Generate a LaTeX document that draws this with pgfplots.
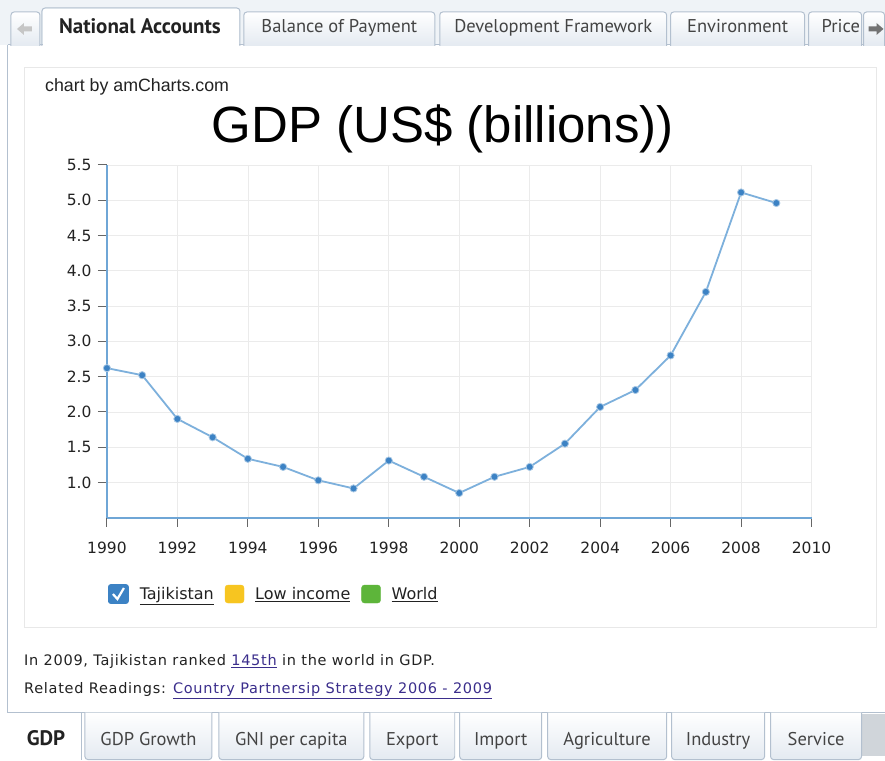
\documentclass[border=0pt]{standalone}
\usepackage{pgfplots}
\pgfplotsset{compat=1.18}
\usepackage{fontspec}
\setmainfont{DejaVu Sans}
\newfontfamily\arial{Liberation Sans}
\newfontfamily\tabfont{PT Sans}
\newfontfamily\bodyspaced[LetterSpace=5]{DejaVu Sans}
\definecolor{tabbg}{HTML}{E4EAF1}
\definecolor{tabborder}{HTML}{B3C0CF}
\definecolor{linkc}{HTML}{3B2E8C}
\definecolor{plotline}{HTML}{7DB0DC}
\definecolor{plotmark}{HTML}{3C82C4}
\definecolor{axisblue}{HTML}{6FA6D6}
\definecolor{txt}{HTML}{222222}
\definecolor{tabtxt}{HTML}{444444}
\definecolor{lowinc}{HTML}{F7C520}
\definecolor{world}{HTML}{5DB53A}
\begin{document}
\begin{tikzpicture}
\begin{scope}[x=1pt,y=-1pt]
\fill[white] (0,0) rectangle (885,756);
% ---------- top tab bar ----------
\fill[tabbg!60!white] (0,0) rectangle (885,45);
\draw[tabborder, line width=1pt] (8,45) -- (885,45);
\foreach \xa/\xb in {11/40,244/435,440/667,671/805,809/862,864/885}{
  \draw[tabborder, line width=1pt, top color=white, bottom color=tabbg, rounded corners=3pt] (\xa,46) -- (\xa,12) -- (\xb,12) -- (\xb,46);
}
\fill[white] (43,9) rectangle (239,47);
\draw[tabborder, line width=1pt, rounded corners=3pt] (42,46) -- (42,8) -- (240,8) -- (240,46);
\fill[gray!45] (17,29) -- (24,23) -- (24,26.5) -- (32,26.5) -- (32,31.5) -- (24,31.5) -- (24,35) -- cycle;
\fill[gray!90!black] (884,29) -- (877,23) -- (877,26.5) -- (869,26.5) -- (869,31.5) -- (877,31.5) -- (877,35) -- cycle;
\node[anchor=base, text=txt, font=\tabfont\bfseries\fontsize{21}{24}\selectfont] at (140,34) {National Accounts};
\node[anchor=base, text=tabtxt, font=\tabfont\fontsize{18.5}{22}\selectfont] at (339.5,33) {Balance of Payment};
\node[anchor=base, text=tabtxt, font=\tabfont\fontsize{18.5}{22}\selectfont] at (553.5,33) {Development Framework};
\node[anchor=base, text=tabtxt, font=\tabfont\fontsize{18.5}{22}\selectfont] at (738,33) {Environment};
\node[anchor=base west, inner xsep=0pt, text=tabtxt, font=\tabfont\fontsize{18.5}{22}\selectfont] at (822,33) {Price};
% ---------- content frame ----------
\draw[tabborder, line width=1pt] (8,45) -- (8,713);
\draw[gray!18, line width=0.8pt] (24,67) rectangle (877,628);
% ---------- titles ----------
\node[anchor=base west, inner sep=0pt, text=txt, font=\arial\fontsize{17.8}{20}\selectfont] at (45,92) {chart by amCharts.com};
\node[anchor=base, inner sep=0pt, text=black, font=\arial\fontsize{51}{58}\selectfont] at (443,143) {GDP (US\$ (billions))};
% ---------- bottom text ----------
\node[anchor=base west, inner sep=0pt, text=txt, font=\bodyspaced\fontsize{14.5}{17}\selectfont] at (24,666) {In 2009, Tajikistan ranked \textcolor{linkc}{\underline{145th}} in the world in GDP.};
\node[anchor=base west, inner sep=0pt, text=txt, font=\bodyspaced\fontsize{14.5}{17}\selectfont] at (24,694) {Related Readings: \textcolor{linkc}{\underline{Country Partnersip Strategy 2006 - 2009}}};
% ---------- bottom tabs ----------
\draw[tabborder, line width=1pt] (8,713) -- (885,713);
\fill[tabbg!80!gray] (862,714) rectangle (885,756);
\foreach \xa/\xb in {85/212,219/364,370/455,460/542,548/667,672/765,771/862}{
  \draw[tabborder, line width=1pt, top color=white, bottom color=tabbg, rounded corners=3pt] (\xa,713) -- (\xa,760) -- (\xb,760) -- (\xb,713);
}
\fill[white] (9,714) rectangle (82,756);
\draw[tabborder, line width=1pt] (82,713) -- (82,760);
\node[anchor=base, text=txt, font=\tabfont\bfseries\fontsize{21}{24}\selectfont] at (46,746) {GDP};
\node[anchor=base, text=tabtxt, font=\tabfont\fontsize{18.5}{22}\selectfont] at (148.5,746) {GDP Growth};
\node[anchor=base, text=tabtxt, font=\tabfont\fontsize{18.5}{22}\selectfont] at (291.5,746) {GNI per capita};
\node[anchor=base, text=tabtxt, font=\tabfont\fontsize{18.5}{22}\selectfont] at (412.5,746) {Export};
\node[anchor=base, text=tabtxt, font=\tabfont\fontsize{18.5}{22}\selectfont] at (501,746) {Import};
\node[anchor=base, text=tabtxt, font=\tabfont\fontsize{18.5}{22}\selectfont] at (607.5,746) {Agriculture};
\node[anchor=base, text=tabtxt, font=\tabfont\fontsize{18.5}{22}\selectfont] at (718.5,746) {Industry};
\node[anchor=base, text=tabtxt, font=\tabfont\fontsize{18.5}{22}\selectfont] at (816.5,746) {Service};
\end{scope}
% ---------- chart ----------
\begin{axis}[
  at={(107pt,-518pt)}, anchor=south west,
  scale only axis, width=705pt, height=353pt,
  xmin=1990, xmax=2010, ymin=0.5, ymax=5.5,
  axis lines*=left,
  axis line style={axisblue, line width=2.2pt},
  xtick={1990,1992,...,2010},
  ytick={1,1.5,2,2.5,3,3.5,4,4.5,5,5.5},
  tick align=outside,
  major tick length=9pt,
  tick style={gray!80!black, line width=0.9pt},
  grid=major,
  major grid style={gray!16, line width=0.7pt},
  /pgf/number format/assume math mode=true,
  xticklabel style={/pgf/number format/1000 sep={}, font=\fontsize{15.5}{18}\selectfont, text=txt, yshift=-12pt},
  yticklabel style={/pgf/number format/fixed, /pgf/number format/fixed zerofill, /pgf/number format/precision=1, font=\fontsize{15.5}{18}\selectfont, text=txt, xshift=-3pt},
  clip=false,
  legend columns=3,
  legend style={at={(-0.003,-0.182)}, anchor=north west, draw=none, fill=none,
    font=\fontsize{16}{19}\selectfont, text=txt,
    /tikz/every odd column/.append style={column sep=9pt},
    /tikz/every even column/.append style={column sep=9pt}},
  legend cell align=left,
]
\addplot[plotline, line width=1.8pt, mark=*, mark size=3.6pt,
  mark options={fill=plotmark, draw=plotmark!45!white, line width=0.8pt},
  legend image code/.code={
    \fill[plotmark, rounded corners=2pt] (0pt,-9pt) rectangle (19pt,9pt);
    \draw[white, line width=2.2pt] (4pt,0pt) -- (8.5pt,-5pt) -- (15pt,6pt);
  }]
coordinates {
(1990,2.62) (1991,2.52) (1992,1.90) (1993,1.64) (1994,1.335) (1995,1.22)
(1996,1.03) (1997,0.915) (1998,1.31) (1999,1.08) (2000,0.85) (2001,1.08)
(2002,1.22) (2003,1.55) (2004,2.07) (2005,2.31) (2006,2.80) (2007,3.70)
(2008,5.11) (2009,4.96)
};
\addlegendentry{\underline{Tajikistan}}
\addlegendimage{legend image code/.code={\fill[lowinc, rounded corners=3pt] (0pt,-9pt) rectangle (19pt,9pt);}}
\addlegendentry{\underline{Low income}}
\addlegendimage{legend image code/.code={\fill[world, rounded corners=3pt] (0pt,-9pt) rectangle (19pt,9pt);}}
\addlegendentry{\underline{World}}
\end{axis}
\end{tikzpicture}
\end{document}
